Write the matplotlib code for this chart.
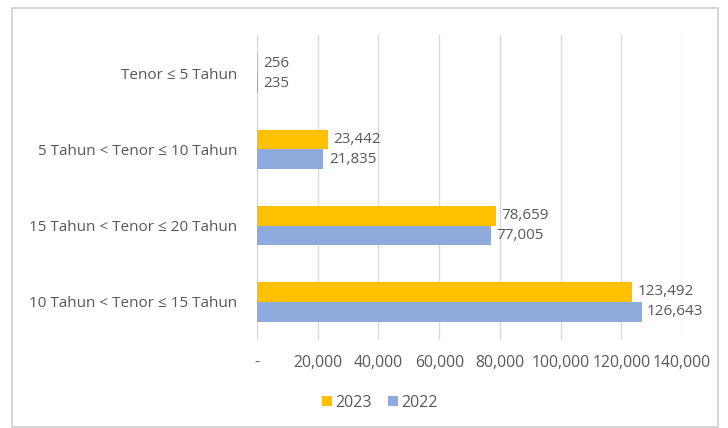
import matplotlib.pyplot as plt
import numpy as np
from matplotlib.patches import Rectangle

# Tenor buckets, top to bottom
categories = [
    "Tenor \u2264 5 Tahun",
    "5 Tahun < Tenor \u2264 10 Tahun",
    "15 Tahun < Tenor \u2264 20 Tahun",
    "10 Tahun < Tenor \u2264 15 Tahun",
]
values_2023 = [256, 23442, 78659, 123492]
values_2022 = [235, 21835, 77005, 126643]
x_ticks = [0, 20000, 40000, 60000, 80000, 100000, 120000, 140000]

ORANGE = "#FFC000"
BLUE = "#8FAADC"
TEXT = "#595959"

plt.rcParams["font.family"] = ["Open Sans", "DejaVu Sans"]

fig = plt.figure(figsize=(7.28, 4.28), dpi=100)
ax = fig.add_axes([0.353, 0.206, 0.584, 0.712])

# outer chart frame
fig.patches.append(Rectangle((12 / 728, 0.002), 706 / 728, 1 - 8 / 428 - 0.002,
                             transform=fig.transFigure, fill=False,
                             edgecolor="#D0D0D0", linewidth=1.2))

y = np.arange(len(categories))
h = 0.26
ax.barh(y - h / 2, values_2023, height=h, color=ORANGE, label="2023", zorder=2)
ax.barh(y + h / 2, values_2022, height=h, color=BLUE, label="2022", zorder=2)

for i, (a, b) in enumerate(zip(values_2023, values_2022)):
    ax.annotate(f"{a:,}", (a, i - h / 2), xytext=(4, 0), textcoords="offset points",
                va="center", ha="left", fontsize=11, color=TEXT)
    ax.annotate(f"{b:,}", (b, i + h / 2), xytext=(4, 0), textcoords="offset points",
                va="center", ha="left", fontsize=11, color=TEXT)

ax.set_xlim(0, 140000)
ax.set_ylim(len(categories) - 0.5, -0.5)
ax.set_yticks(y)
ax.set_yticklabels(categories, fontsize=11, color=TEXT)
ax.set_xticks(x_ticks)
ax.set_xticklabels(["-" if v == 0 else f"{v:,}" for v in x_ticks],
                   fontsize=11.3, color=TEXT)
ax.tick_params(axis="both", length=0, pad=11)
ax.tick_params(axis="y", pad=14)
ax.grid(axis="x", color="#D9D9D9", linewidth=1, zorder=0)
for s in ax.spines.values():
    s.set_visible(False)

ax.legend(loc="center", bbox_to_anchor=(380 / 728, 1 - 403 / 428),
          bbox_transform=fig.transFigure, ncol=2, frameon=False,
          fontsize=11.5, labelcolor=TEXT, handlelength=0.6, handleheight=0.6,
          handletextpad=0.25, columnspacing=1.0)

fig.savefig("out.png", dpi=100)
